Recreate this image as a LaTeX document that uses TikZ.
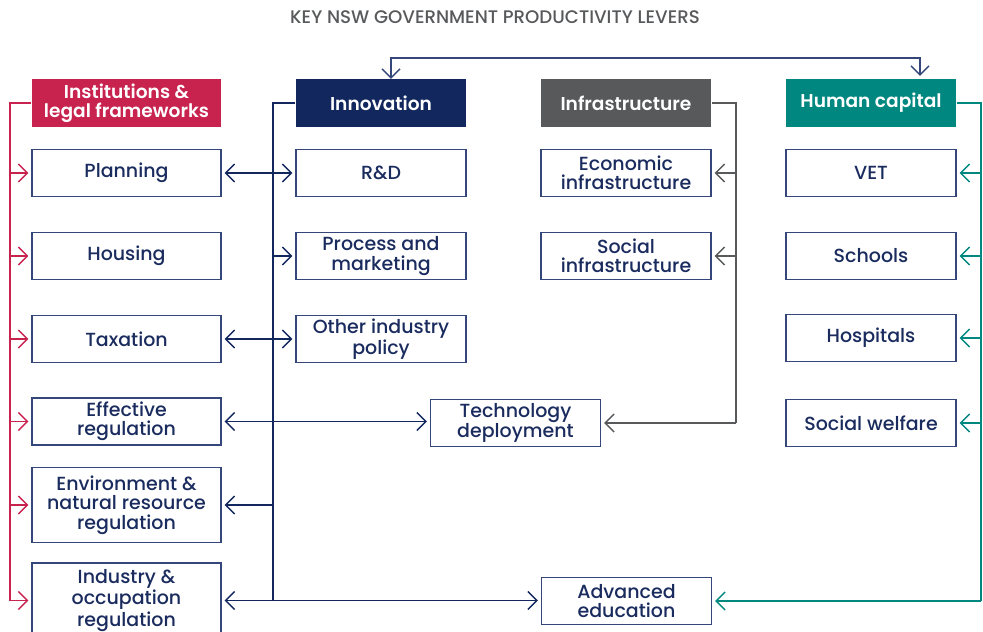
\documentclass[tikz,border=0pt]{standalone}
\usepackage{fontspec}
\setmainfont{Poppins}[UprightFont={* Medium}, BoldFont={* SemiBold}]
\usetikzlibrary{arrows.meta}
\definecolor{instred}{HTML}{C8234F}
\definecolor{innovblue}{HTML}{12275E}
\definecolor{infragray}{HTML}{58595B}
\definecolor{humanteal}{HTML}{00877F}
\definecolor{boxtext}{HTML}{1A2B5E}
\definecolor{boxline}{HTML}{34467A}
\definecolor{titlegray}{HTML}{58595B}
\newcommand{\boxfont}{\fontsize{9.5}{9.7}\selectfont}
\newcommand{\headfont}{\fontsize{9.3}{9.7}\selectfont\bfseries}
\tikzstyle{lever} = [draw=boxline, line width=0.7pt, minimum width=85pt, minimum height=23.5pt, inner sep=1pt, align=center, text=boxtext, font=\boxfont]
\tikzstyle{head} = [minimum width=85pt, minimum height=23.5pt, inner sep=1pt, align=center, text=white, font=\headfont]
\tikzstyle{wide} = [minimum width=94.5pt]
\tikzstyle{tall} = [minimum height=37.5pt]

\begin{document}
\begin{tikzpicture}[x=0.5pt, y=-0.5pt, line width=0.7pt, >={Straight Barb[length=4.5pt,width=9pt]}, shorten >=1.5pt]
	  \useasboundingbox (0,0) rectangle (983,631);
	  \node (title) at (495,17) [text=titlegray, font=\fontsize{9.1}{9.5}\selectfont] {KEY NSW GOVERNMENT PRODUCTIVITY LEVERS};

	  \node (inst) at (126.5,103) [head, wide, fill=instred] {Institutions \&\\legal frameworks};
	  \node (plan) at (126.5,173) [lever, wide] {Planning};
	  \node (hous) at (126.5,256) [lever, wide] {Housing};
	  \node (tax) at (126.5,339) [lever, wide] {Taxation};
	  \node (effreg) at (126.5,421.5) [lever, wide] {Effective\\regulation};
	  \node (envreg) at (126.5,505) [lever, wide, tall] {Environment \&\\natural resource\\regulation};
	  \node (indreg) at (126.5,600.5) [lever, wide, tall] {Industry \&\\occupation\\regulation};

	  \node (innov) at (381,103) [head, fill=innovblue] {Innovation};
	  \node (rd) at (381,173) [lever] {R\&D};
	  \node (proc) at (381,256) [lever] {Process and\\marketing};
	  \node (other) at (381,339) [lever] {Other industry\\policy};

	  \node (infra) at (626,103) [head, fill=infragray] {Infrastructure};
	  \node (econ) at (626,173) [lever] {Economic\\infrastructure};
	  \node (social) at (626,256) [lever] {Social\\infrastructure};

	  \node (tech) at (515.5,423) [lever] {Technology\\deployment};
	  \node (adv) at (626.5,601) [lever] {Advanced\\education};

	  \node (human) at (871,103) [head, fill=humanteal] {Human capital};
	  \node (vet) at (871,173) [lever] {VET};
	  \node (schools) at (871,256) [lever] {Schools};
	  \node (hosp) at (871,338) [lever] {Hospitals};
	  \node (welfare) at (871,423) [lever] {Social welfare};

	  \coordinate (toplft) at (391,58);
	  \coordinate (toprgt) at (920,58);
	  \coordinate (rtop) at (10,103);
	  \coordinate (rbot) at (10,600.5);
	  \coordinate (ntop) at (273,103);
	  \coordinate (nbot) at (273,600.5);
	  \coordinate (gtop) at (736,103);
	  \coordinate (gbot) at (736,423);
	  \coordinate (ttop) at (981,103);
	  \coordinate (tbot) at (981,601);

	  \draw [<->, boxline] (innov.north -| toplft) -- (toplft) -- (toprgt) -- (human.north -| toprgt);

	  \draw [instred, shorten >=0pt] (inst) -- (rtop) -- (rbot);
	  \draw [->, instred] (rtop |- plan) -- (plan);
	  \draw [->, instred] (rtop |- hous) -- (hous);
	  \draw [->, instred] (rtop |- tax) -- (tax);
	  \draw [->, instred] (rtop |- effreg) -- (effreg);
	  \draw [->, instred] (rtop |- envreg) -- (envreg);
	  \draw [->, instred] (rbot) -- (indreg);

	  \draw [innovblue, shorten >=0pt] (innov) -- (ntop) -- (nbot);
	  \draw [<->, innovblue, shorten <=1.5pt] (plan) -- (rd);
	  \draw [->, innovblue] (ntop |- proc) -- (proc);
	  \draw [<->, innovblue, shorten <=1.5pt] (tax) -- (other);
	  \draw [<->, innovblue, shorten <=1.5pt] (effreg) -- (effreg -| tech.west);
	  \draw [->, innovblue] (ntop |- envreg) -- (envreg);
	  \draw [<->, innovblue, shorten <=1.5pt] (indreg) -- (indreg -| adv.west);

	  \draw [infragray, shorten >=0pt] (infra) -- (gtop) -- (gbot);
	  \draw [->, infragray] (gtop |- econ) -- (econ);
	  \draw [->, infragray] (gtop |- social) -- (social);
	  \draw [->, infragray] (gbot) -- (tech);

	  \draw [humanteal, shorten >=0pt] (human) -- (ttop) -- (tbot);
	  \draw [->, humanteal] (ttop |- vet) -- (vet);
	  \draw [->, humanteal] (ttop |- schools) -- (schools);
	  \draw [->, humanteal] (ttop |- hosp) -- (hosp);
	  \draw [->, humanteal] (ttop |- welfare) -- (welfare);
	  \draw [->, humanteal] (tbot) -- (adv);
	\end{tikzpicture}
\end{document}
